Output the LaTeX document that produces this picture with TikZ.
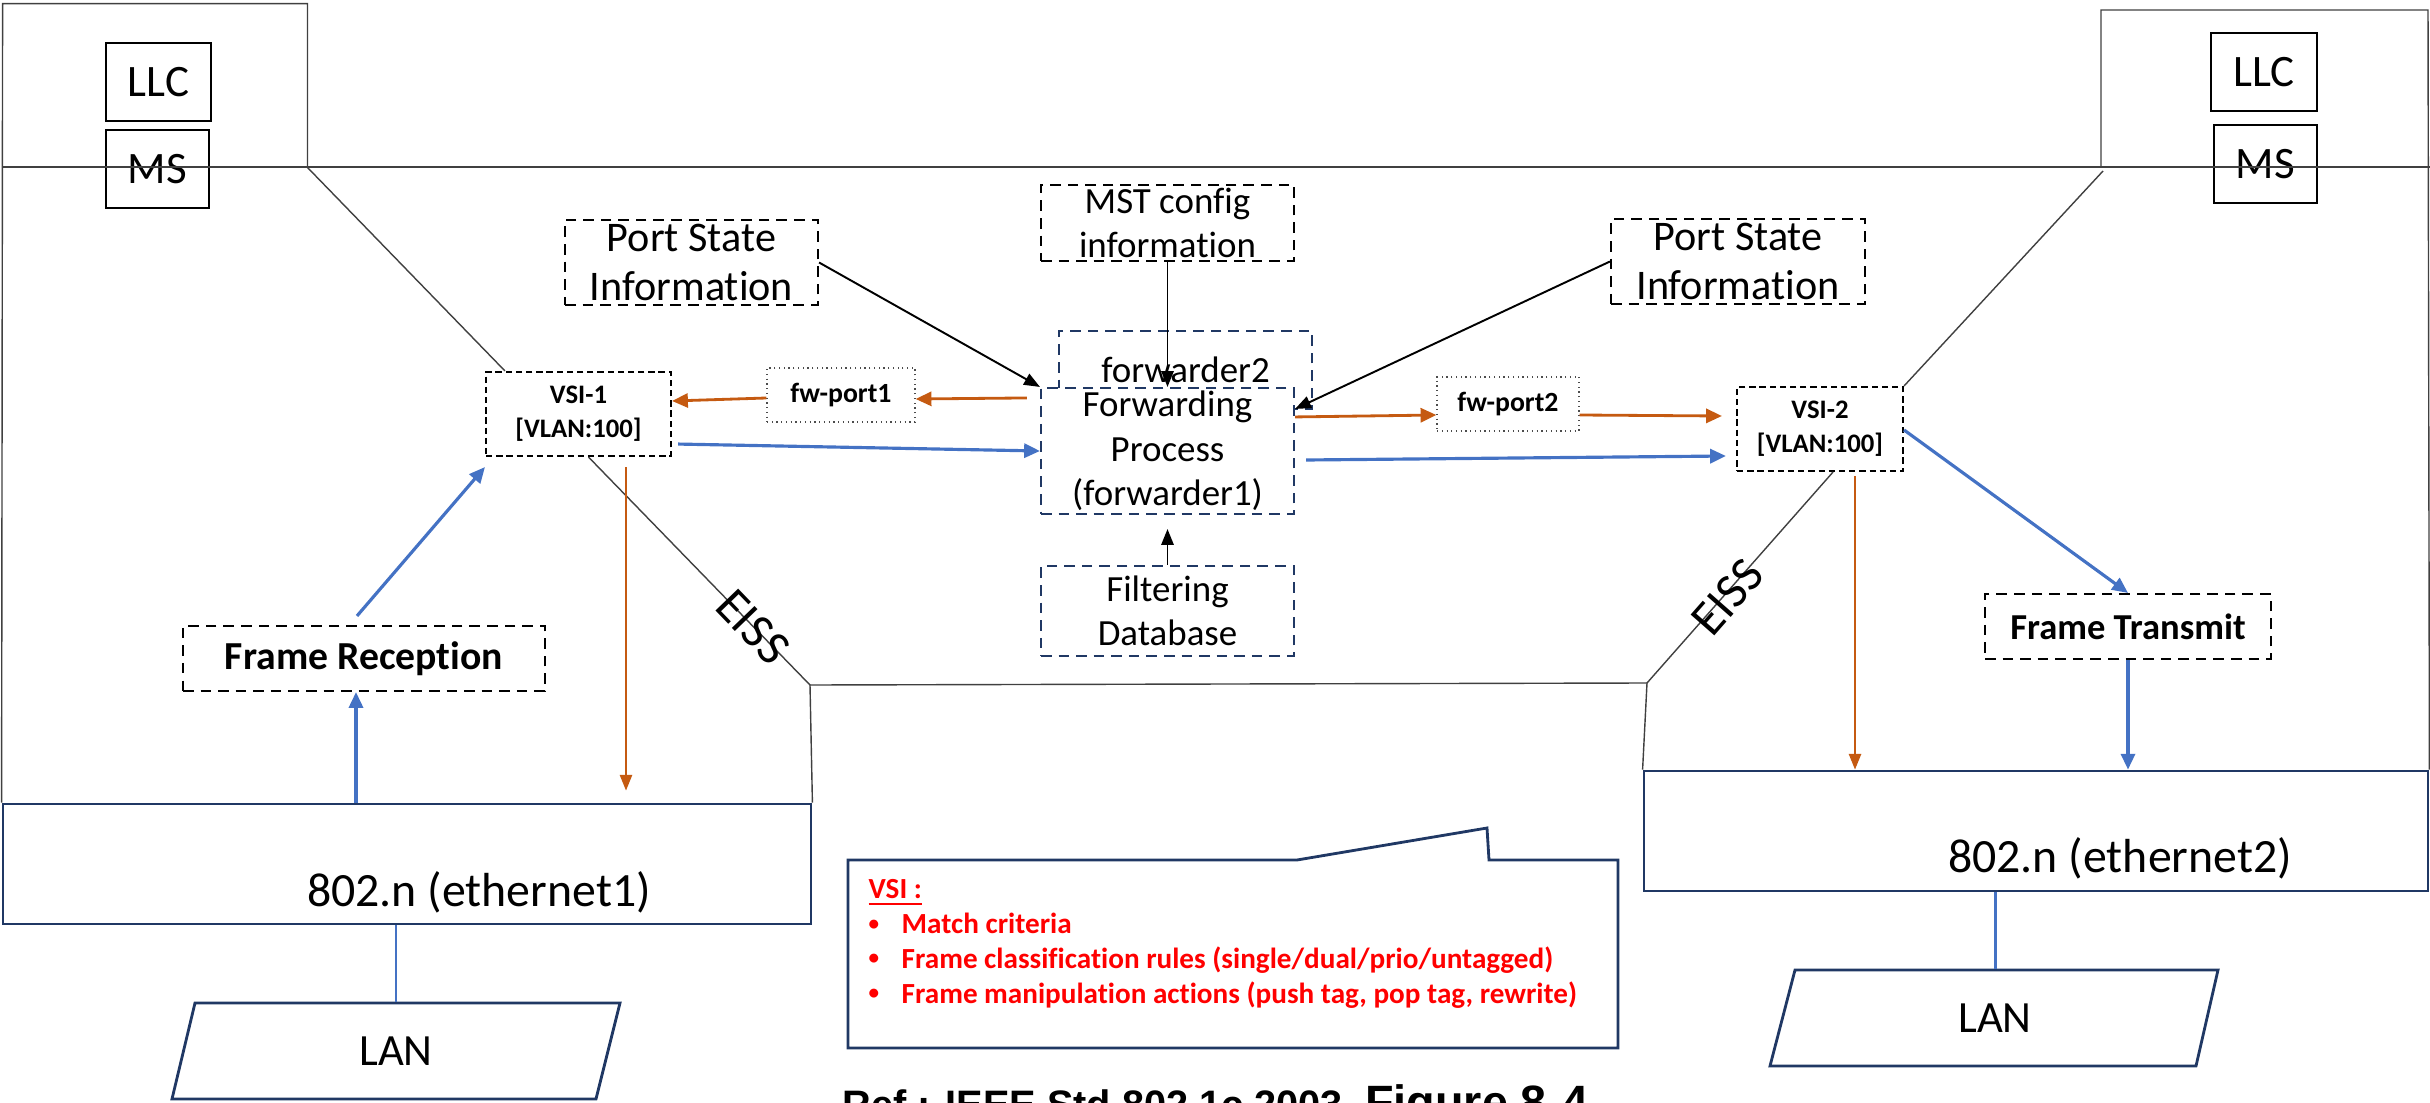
\documentclass[tikz,border=0pt]{standalone}
\usepackage{fontspec}
\setmainfont{Carlito}[Ligatures=NoCommon]
\newfontfamily\capfont{Liberation Sans}
\usepackage{tikz}
\usepackage{xcolor}
\usetikzlibrary{positioning, arrows.meta, calc}
\definecolor{navy}{HTML}{203864}
\definecolor{lineblue}{HTML}{4472C4}
\definecolor{burnt}{HTML}{C55A11}
\definecolor{framegray}{HTML}{404040}
\newcommand{\smallbullet}{\makebox[9.4pt][l]{\raisebox{0.25ex}{\fontsize{6}{7}\selectfont\textbullet}}}
\tikzstyle{plain}=[rectangle, draw=black, line width=0.6pt, inner sep=0pt,
font=\fontsize{12.8}{15}\selectfont]
\tikzstyle{dbox}=[rectangle, draw=black, line width=0.6pt,
dash pattern=on 3pt off 2pt, inner sep=0pt, align=center]
\tikzstyle{nbox}=[dbox, draw=navy, font=\fontsize{10.5}{12.6}\selectfont]
\tikzstyle{vsi}=[dbox, dash pattern=on 1.8pt off 1.1pt,
font=\bfseries\fontsize{7.6}{9.7}\selectfont]
\tikzstyle{fwp}=[rectangle, draw=black!70, line width=0.35pt, densely dotted,
inner sep=0pt, font=\bfseries\fontsize{7.9}{9}\selectfont]
\tikzstyle{eth}=[rectangle, draw=navy, line width=0.8pt, inner sep=0pt]

\begin{document}
\begin{tikzpicture}[
  frame/.style={draw=framegray, line width=0.4pt},
  blu/.style={draw=lineblue, line width=0.9pt, -{Triangle[length=4.5pt,width=4pt]}},
  bline/.style={draw=lineblue, line width=0.85pt},
  ora/.style={draw=burnt, line width=0.8pt, -{Triangle[length=4.5pt,width=4pt]}},
  orathin/.style={draw=burnt, line width=0.55pt, -{Triangle[length=4.5pt,width=3.5pt]}},
  blk/.style={draw=black, line width=0.55pt, -{Triangle[length=4.5pt,width=3.5pt]}},
]
\useasboundingbox (0,0) rectangle (24.3,-11.03);
\clip (0,0) rectangle (24.3,-11.03);

\node [plain, minimum width=1.05cm, minimum height=0.78cm] (llcL) at (1.585,-0.82) {LLC};
\node [plain, minimum width=1.03cm, minimum height=0.78cm] (msL) at (1.575,-1.69) {MS};
\node [plain, minimum width=1.06cm, minimum height=0.78cm] (llcR) at (22.64,-0.72) {LLC};
\node [plain, minimum width=1.03cm, minimum height=0.78cm] (msR) at (22.655,-1.64) {MS};

\node [dbox, minimum width=2.53cm, minimum height=0.85cm, font=\fontsize{12}{14.2}\selectfont] (psiL) at (6.915,-2.625) {Port State\\Information};
\node [dbox, minimum width=2.54cm, minimum height=0.85cm, font=\fontsize{12}{14.2}\selectfont] (psiR) at (17.38,-2.615) {Port State\\Information};
\node [dbox, minimum width=2.53cm, minimum height=0.76cm, font=\fontsize{10.5}{12.6}\selectfont] (mst) at (11.675,-2.23) {MST config\\information};

\node [nbox, minimum width=2.53cm, minimum height=0.78cm] (fwd2) at (11.855,-3.70) {forwarder2};
\node [nbox, fill=white, minimum width=2.53cm, minimum height=1.26cm] (fwd) at (11.675,-4.51) {Forwarding\\Process\\(forwarder1)};
\node [nbox, minimum width=2.53cm, minimum height=0.90cm] (fdb) at (11.675,-6.11) {Filtering\\Database};

\node [vsi, minimum width=1.85cm, minimum height=0.84cm] (vsiA) at (5.785,-4.14) {VSI-1\\{}[VLAN:100]};
\node [vsi, minimum width=1.66cm, minimum height=0.84cm] (vsiB) at (18.2,-4.29) {VSI-2\\{}[VLAN:100]};
\node [fwp, minimum width=1.48cm, minimum height=0.54cm] (fwpA) at (8.41,-3.95) {fw-port1};
\node [fwp, minimum width=1.42cm, minimum height=0.54cm] (fwpB) at (15.08,-4.04) {fw-port2};

\node [dbox, minimum width=3.62cm, minimum height=0.65cm, font=\bfseries\fontsize{11.3}{13}\selectfont] (frx) at (3.64,-6.585) {Frame Reception};
\node [dbox, minimum width=2.86cm, minimum height=0.65cm, font=\bfseries\fontsize{10.4}{12}\selectfont] (ftx) at (21.28,-6.265) {Frame Transmit};

\node [eth, minimum width=8.08cm, minimum height=1.2cm] (ethA) at (4.07,-8.64) {};
\node [font=\fontsize{13.6}{16}\selectfont] (ethAtxt) at (4.79,-8.92) {802.n (ethernet1)};
\node [eth, minimum width=7.84cm, minimum height=1.2cm] (ethB) at (20.36,-8.31) {};
\node [font=\fontsize{13.6}{16}\selectfont] (ethBtxt) at (21.2,-8.58) {802.n (ethernet2)};

\node [inner sep=0pt, minimum width=4cm, minimum height=0.96cm, font=\fontsize{12.7}{15}\selectfont] (lanA) at (3.96,-10.51) {LAN};
\draw [navy, line width=0.8pt] (1.95,-10.03) -- (6.20,-10.03) -- (5.96,-10.99) -- (1.72,-10.99) -- cycle;
\node [inner sep=0pt, minimum width=4cm, minimum height=0.96cm, font=\fontsize{12.7}{15}\selectfont] (lanB) at (19.95,-10.18) {LAN};
\draw [navy, line width=0.8pt] (17.95,-9.70) -- (22.18,-9.70) -- (21.96,-10.66) -- (17.70,-10.66) -- cycle;

% outline of the bridge
\coordinate (kneeL) at (8.10,-6.85);
\coordinate (kneeR) at (16.47,-6.83);
\draw [frame] (ethA.north west) -- (0.026,-0.036) -- (3.075,-0.036) -- (3.075,-1.675);
\draw [frame] (0.026,-1.67) -- (24.3,-1.67);
\draw [frame] (3.075,-1.675) -- ([xshift=2mm]vsiA.north west);
\draw [frame] ([xshift=1mm]vsiA.south) -- (kneeL) -- (kneeR) -- ([xshift=1.3mm]vsiB.south);
\draw [frame] (kneeL) -- (ethA.north east);
\draw [frame] (kneeR) -- (ethB.north west);
\draw [frame] (vsiB.north east) -- (21.03,-1.71);
\draw [frame] (21.01,-1.67) -- (21.01,-0.10) -- (24.28,-0.10) -- (ethB.north east);

\node [rotate=-46, inner sep=0pt, font=\fontsize{14}{16}\selectfont] (eissL) at (7.53,-6.27) {EISS};
\node [rotate=48.7, inner sep=0pt, font=\fontsize{14}{16}\selectfont] (eissR) at (17.28,-5.97) {EISS};

% data path
\draw [ora] ([xshift=-1.3mm,yshift=-1.1mm]fwd.north west) -- ([yshift=-0.4mm]fwpA.east);
\draw [ora] ([yshift=-0.3mm]fwpA.west) -- ([yshift=1.3mm]vsiA.east);
\draw [blu] ([xshift=0.6mm,yshift=1.3mm]vsiA.south east) -- (fwd.west);
\draw [ora] ([yshift=-3mm]fwd.north east) -- ([yshift=-1.1mm]fwpB.west);
\draw [ora] ([yshift=-1.1mm]fwpB.east) -- ([xshift=-1.4mm,yshift=1.3mm]vsiB.west);
\draw [blu] ([xshift=1.1mm,yshift=-0.9mm]fwd.east) -- ([xshift=-1mm,yshift=-2.7mm]vsiB.west);
\draw [blu] ([yshift=-0.1mm]vsiB.east) -- (ftx.north);
\draw [blu] (ftx.south) -- (ftx.south |- ethB.north);
\draw [orathin] ([xshift=3.5mm,yshift=-0.4mm]vsiB.south) -- ([xshift=3.5mm]vsiB.south |- ethB.north);
\draw [bline] (lanB.north |- ethB.south) -- (lanB.north);
\draw [orathin, shorten >=1.2mm] ([xshift=4.75mm,yshift=-1mm]vsiA.south) -- ([xshift=4.75mm]vsiA.south |- ethA.north);
\draw [blu] ([xshift=-0.8mm]frx.south |- ethA.north) -- ([xshift=-0.8mm]frx.south);
\draw [blu] ([xshift=-0.7mm,yshift=0.9mm]frx.north) -- ([yshift=-1mm]vsiA.south west);
\draw [bline] (lanA.north |- ethA.south) -- (lanA.north);

\draw [blk] (psiL.east) -- (fwd.north west);
\draw [blk] (psiR.west) -- ([yshift=-2.2mm]fwd.north east);
\draw [blk] (mst.south) -- (fwd.north);
\draw [blk] (fdb.north) -- ([yshift=-1.4mm]fwd.south);

% VSI note
\draw [navy, line width=0.8pt] (8.48,-8.60) -- (12.97,-8.60) -- (14.87,-8.28) -- (14.89,-8.60) -- (16.18,-8.60) -- (16.18,-10.48) -- (8.48,-10.48) -- cycle;
\node [anchor=north west, align=left, inner sep=0pt, text=red, font=\bfseries\fontsize{8.3}{9.9}\selectfont] (note) at (8.68,-8.79)
{\underline{VSI :}\\
\smallbullet Match criteria\\
\smallbullet Frame classification rules (single/dual/prio/untagged)\\
\smallbullet Frame manipulation actions (push tag, pop tag, rewrite)};

\node [anchor=base west, inner sep=0pt, font=\capfont\bfseries] (caption) at (8.42,-11.18)
{\fontsize{11.3}{13}\selectfont Ref : IEEE Std 802.1c 2003, \fontsize{13.3}{15}\selectfont Figure 8-4};

\end{tikzpicture}
\end{document}
